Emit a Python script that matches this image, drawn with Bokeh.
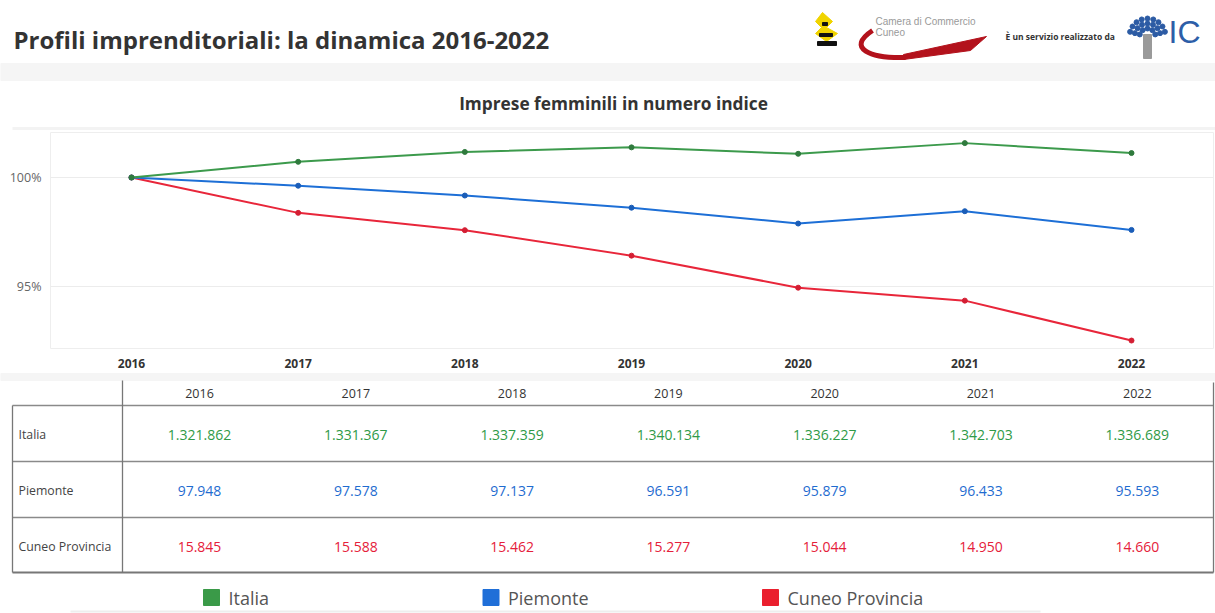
import math
from bokeh.plotting import figure
from bokeh.models import Range1d
from bokeh.core.properties import value
from bokeh.embed import file_html
from bokeh.resources import INLINE

# ---------------- data ----------------
years = [2016, 2017, 2018, 2019, 2020, 2021, 2022]
year_labels = ["2016", "2017", "2018", "2019", "2020", "2021", "2022"]
series_names = ["Italia", "Piemonte", "Cuneo Provincia"]
italia = [1321862, 1331367, 1337359, 1340134, 1336227, 1342703, 1336689]
piemonte = [97948, 97578, 97137, 96591, 95879, 96433, 95593]
cuneo = [15845, 15588, 15462, 15277, 15044, 14950, 14660]
y_ticks = [95, 100]
y_tick_labels = ["95%", "100%"]
line_colors = ["#3c9a4c", "#1d6fd6", "#e8263a"]
dot_colors = ["#2f7a3d", "#1a5db8", "#d41e33"]
value_colors = ["#2f9a47", "#1f6cd0", "#e5203a"]
legend_colors = ["#3a9a48", "#1f6fd8", "#ea1f2e"]

main_title = "Profili imprenditoriali: la dinamica 2016-2022"
chart_title = "Imprese femminili in numero indice"

FONT = "Open Sans"
W, H = 1215, 613
series_values = [italia, piemonte, cuneo]


def fmt_it(v):
    return f"{v:,}".replace(",", ".")


# one canvas: default ranges = picture pixels (y downwards);
# "yr"/"pct" ranges = the chart's own data scales
p = figure(width=W, height=H, x_range=Range1d(0, W),
           y_range=Range1d(H, 0), output_backend="svg",
           toolbar_location=None, min_border=0,
           x_axis_location=None, y_axis_location=None)
p.grid.grid_line_color = None
p.outline_line_color = None
p.background_fill_color = "white"
p.border_fill_color = "white"
p.extra_x_ranges = {"yr": Range1d(2015.214, 2022.504)}
p.extra_y_ranges = {"pct": Range1d(80.0, 108.119)}

# ---------------- header ----------------
p.quad(left=0, right=W, bottom=80, top=63, color="#f5f5f5")
p.text(x=[13], y=[39], text=[main_title], text_font=value(FONT),
       text_font_size="24px", text_font_style="bold", text_color="#333333",
       text_baseline="middle", text_align="left")
# Camera di Commercio logo (approximation)
p.patch(x=[822, 832, 826, 837, 826, 815, 821, 815],
        y=[12, 21, 27, 33, 41, 33, 27, 21], color="#f0d400")
p.quad(left=[822, 819, 817], right=[827, 832, 836], top=[22, 33, 41],
       bottom=[25, 36, 45], color="#111111")
p.bezier(x0=[872], y0=[30], x1=[905], y1=[57], cx0=[845], cy0=[48],
         cx1=[870], cy1=[58], line_color="#b3121c", line_width=5)
p.patch(x=[903, 986, 970, 903], y=[54, 36, 50, 59], color="#b3121c")
p.text(x=[875, 875], y=[21, 32], text=["Camera di Commercio", "Cuneo"],
       text_font=value("Liberation Sans"), text_font_size="10px",
       text_color="#9a9a9a", text_baseline="middle", text_align="left")
p.text(x=[1005], y=[36], text=["È un servizio realizzato da"],
       text_font=value(FONT), text_font_size="8.5px", text_font_style="bold",
       text_color="#333333", text_baseline="middle", text_align="left")
tx, ty = [], []
for r, n in [(8, 5), (13, 7), (18, 9)]:
    for k in range(n):
        th = math.radians(15 + 150 * k / (n - 1))
        tx.append(1147 + r * math.cos(th))
        ty.append(36 - r * math.sin(th))
p.scatter(x=tx, y=ty, size=5, color="#2c5ba4")
p.quad(left=[1143], right=[1151], top=[34], bottom=[58], color="#9a9a9a")
p.text(x=[1168], y=[31], text=["IC"], text_font=value("Liberation Sans"),
       text_font_size="32px", text_color="#2d5ea8", text_baseline="middle",
       text_align="left")

# ---------------- chart ----------------
p.text(x=[613], y=[103], text=[chart_title], text_font=value(FONT),
       text_font_size="17.3px", text_font_style="bold", text_color="#333333",
       text_baseline="middle", text_align="center")
p.segment(x0=[12], y0=[128], x1=[W], y1=[128], line_color="#f3f3f3",
          line_width=3)
p.quad(left=[50], right=[1213], top=[132], bottom=[348], fill_color=None,
       line_color="#eeeeee", line_width=1)
# horizontal grid lines at the y ticks
p.segment(x0=[50] * len(y_ticks), x1=[1213] * len(y_ticks), y0=y_ticks,
          y1=y_ticks, y_range_name="pct", line_color="#ececec", line_width=1)
# y tick labels
p.text(x=[41] * len(y_ticks), y=y_ticks, text=y_tick_labels,
       y_range_name="pct", text_font=value(FONT), text_font_size="12.5px",
       text_color="#666666", text_baseline="middle", text_align="right")
# x tick labels
p.text(x=years, y=[363] * len(years), text=year_labels, x_range_name="yr",
       text_font=value(FONT), text_font_size="12px", text_font_style="bold",
       text_color="#333333", text_baseline="middle", text_align="center")
for i in [2, 1, 0]:
    vals = series_values[i]
    idx = [v / vals[0] * 100 for v in vals]
    p.line(x=years, y=idx, x_range_name="yr", y_range_name="pct",
           line_color=line_colors[i], line_width=2)
    p.scatter(x=years, y=idx, x_range_name="yr", y_range_name="pct",
              size=5, color=dot_colors[i])

# ---------------- table ----------------
p.quad(left=0, right=W, top=373, bottom=380, color="#f5f5f5")
col_x = [199 + 156.3 * i for i in range(len(years))]
row_y = [434, 490, 546]
p.segment(x0=[12, 12, 12], y0=[405, 461, 517], x1=[1213] * 3,
          y1=[405, 461, 517], line_color="#8a8a8a", line_width=1.3)
p.segment(x0=[12], y0=[572], x1=[1213], y1=[572], line_color="#777777",
          line_width=2.2)
p.segment(x0=[122, 12, 1213], y0=[380, 405, 382], x1=[122, 12, 1213],
          y1=[572, 572, 572], line_color="#777777", line_width=1.3)
p.text(x=col_x, y=[393] * len(years), text=year_labels, text_font=value(FONT),
       text_font_size="12.5px", text_color="#333333", text_baseline="middle",
       text_align="center")
p.text(x=[18] * 3, y=row_y, text=series_names, text_font=value(FONT),
       text_font_size="12.3px", text_color="#444444", text_baseline="middle",
       text_align="left")
for i, vals in enumerate(series_values):
    p.text(x=col_x, y=[row_y[i]] * len(vals), text=[fmt_it(v) for v in vals],
           text_font=value(FONT), text_font_size="14px",
           text_color=value_colors[i], text_baseline="middle",
           text_align="center")

# ---------------- legend ----------------
lx = [211 + 279.5 * i for i in range(len(series_names))]
p.rect(x=lx, y=[597] * 3, width=16, height=16, color=legend_colors)
p.text(x=[x + 17 for x in lx], y=[597] * 3, text=series_names,
       text_font=value(FONT), text_font_size="18px", text_color="#555555",
       text_baseline="middle", text_align="left")
p.segment(x0=[70], y0=[611], x1=[1040], y1=[611], line_color="#eeeeee",
          line_width=2)

open("out.html", "w").write(file_html(p, INLINE))
